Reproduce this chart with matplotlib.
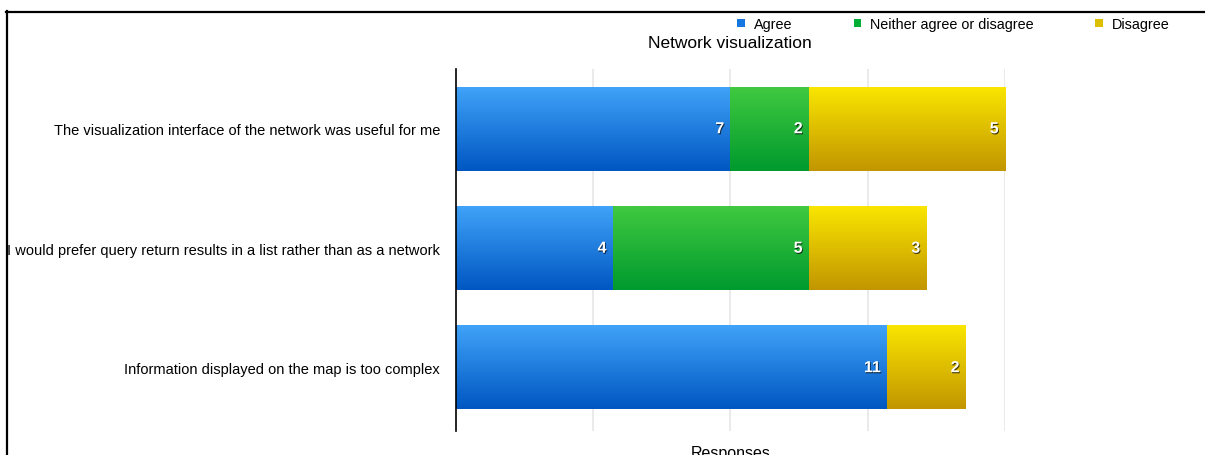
import numpy as np
import matplotlib
matplotlib.use('Agg')
import matplotlib.pyplot as plt
import matplotlib.patheffects as pe
from matplotlib.colors import LinearSegmentedColormap
from matplotlib.lines import Line2D

plt.rcParams['font.family'] = ['Liberation Sans', 'DejaVu Sans']

questions = ['The visualization interface of the network was useful for me',
             'I would prefer query return results in a list rather than as a network',
             'Information displayed on the map is too complex']
agree = [7, 4, 11]
neither = [2, 5, 0]
disagree = [5, 3, 2]
series_names = ['Agree', 'Neither agree or disagree', 'Disagree']
grid_ticks = [3.5, 7, 10.5, 14]

# top colour, legend colour, bottom colour for the glossy bars
shades = [('#40a2f8', '#1677e0', '#0057c2'),
          ('#40c940', '#00ad35', '#009a2e'),
          ('#f9e500', '#dcc000', '#c29600')]

fig = plt.figure(figsize=(12.05, 4.56), dpi=100)
ax = fig.add_axes([456/1205, 1 - 432/456, (1005 - 456)/1205, 362/456])

y = np.arange(len(questions))
left = np.zeros(len(questions))
for vals, name, (c_top, c_mid, c_bot) in zip([agree, neither, disagree], series_names, shades):
    bars = ax.barh(y, vals, left=left, height=0.70, color=c_mid, label=name,
                   edgecolor='none', zorder=2)
    cmap = LinearSegmentedColormap.from_list(name, [c_top, c_bot])
    grad = np.linspace(0, 1, 64).reshape(-1, 1)
    for p, v in zip(bars.patches, vals):
        if v == 0:
            continue
        x0, y0, w, h = p.get_x(), p.get_y(), p.get_width(), p.get_height()
        ax.imshow(grad, cmap=cmap, aspect='auto', origin='upper',
                  extent=(x0, x0 + w, y0 + h, y0), zorder=3, interpolation='bilinear')
        ax.annotate(str(v), xy=(x0 + w, y0 + h / 2), xytext=(-4.5, 0),
                    textcoords='offset points', ha='right', va='center',
                    color='white', fontsize=11.5, fontweight='bold', zorder=5,
                    path_effects=[pe.withSimplePatchShadow(offset=(0.6, -0.8),
                                                           shadow_rgbFace='black', alpha=0.7)])
    left = left + np.array(vals)

ax.set_xlim(0, 14)
ax.set_ylim(2.53, -0.5)
ax.set_yticks(y)
ax.set_yticklabels(questions, fontsize=10.5)
ax.tick_params(axis='y', length=0, pad=11.5)
ax.set_xticks(grid_ticks)
ax.set_xticklabels([])
ax.tick_params(axis='x', length=0)
ax.grid(axis='x', color='#e6e6e6', linewidth=1.2, zorder=0)
ax.set_axisbelow(True)
for s in ['top', 'right', 'bottom']:
    ax.spines[s].set_visible(False)
ax.spines['left'].set_color('black')
ax.spines['left'].set_linewidth(1.2)
ax.spines['left'].set_zorder(6)

fig.text(730/1205, 1 - 43/456, 'Network visualization', ha='center', va='center', fontsize=12.5)
fig.text(731/1205, 1 - 458/456, 'Responses', ha='center', va='baseline', fontsize=11.5)

leg = fig.legend(loc='center left', bbox_to_anchor=(737/1205, 1 - 25/456), ncol=3,
                 frameon=False, fontsize=10.4, handlelength=0.55, handleheight=0.55,
                 handletextpad=0.6, columnspacing=4.25, borderaxespad=0, borderpad=0)

# frame of the surrounding page
fig.add_artist(Line2D([6/1205, 1], [1 - 12.5/456, 1 - 12.5/456], color='black',
                      linewidth=1.6, transform=fig.transFigure))
fig.add_artist(Line2D([7/1205, 7/1205], [0, 1 - 12/456], color='black',
                      linewidth=1.6, transform=fig.transFigure))

fig.savefig('out.png', dpi=100)
